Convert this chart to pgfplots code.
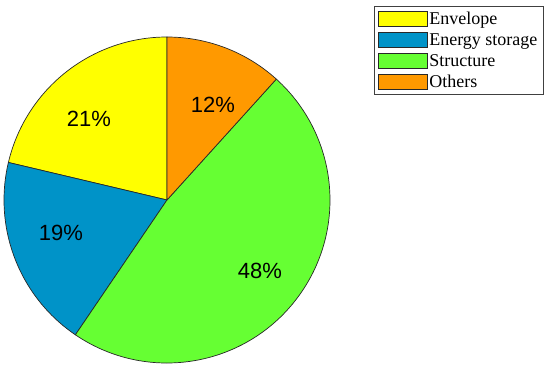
\documentclass[border=0pt]{standalone}
\usepackage{pgfplots}
\usepackage{pgfplotstable}
\pgfplotsset{compat=1.18}
\usepackage{fontspec}
\setmainfont{Liberation Serif}
\newfontfamily\labfont{Liberation Sans}
\definecolor{cEnv}{RGB}{255,255,0}
\definecolor{cEne}{RGB}{0,147,200}
\definecolor{cStr}{RGB}{102,255,51}
\definecolor{cOth}{RGB}{255,153,0}
\definecolor{edge}{RGB}{40,40,40}
\pgfplotstableread{
name value pct lx ly
Envelope 21.3 21 89 248
Energy 19.2 19 61 134
Structure 47.8 48 260 96
Others 11.7 12 213 262
}\piedata
\pgfplotstablegetelem{0}{value}\of\piedata \edef\vA{\pgfplotsretval}
\pgfplotstablegetelem{1}{value}\of\piedata \edef\vB{\pgfplotsretval}
\pgfplotstablegetelem{2}{value}\of\piedata \edef\vC{\pgfplotsretval}
\pgfplotstablegetelem{3}{value}\of\piedata \edef\vD{\pgfplotsretval}
\pgfmathsetmacro\aA{90}
\pgfmathsetmacro\aB{\aA+3.6*\vA}
\pgfmathsetmacro\aC{\aB+3.6*\vB}
\pgfmathsetmacro\aD{\aC+3.6*\vC}
\pgfmathsetmacro\aE{\aD+3.6*\vD}
\newcommand\pieslice[3]{%
  \filldraw[fill=#3, draw=edge, line width=0.7pt]
    (axis cs:167,167) -- ++(#1:163pt) arc[start angle=#1, end angle=#2, radius=163pt] -- cycle;}
\begin{document}
\begin{tikzpicture}
\begin{axis}[
  x=1pt, y=1pt, xmin=0, xmax=550, ymin=0, ymax=367,
  scale only axis, hide axis, clip=false,
  legend style={at={(axis cs:374,361)}, anchor=north west, draw=black!75,
    font=\fontsize{18}{19}\selectfont, row sep=4.6pt, inner sep=4pt,
    nodes={inner sep=1.5pt}},
  legend cell align=left,
  legend image code/.code={\draw[#1, draw=edge, line width=0.6pt] (0pt,-7.5pt) rectangle (49pt,7.5pt);},
]
\coordinate (BL) at (axis cs:0,0);
\coordinate (TR) at (axis cs:550,367);
\addlegendimage{fill=cEnv}
\addlegendimage{fill=cEne}
\addlegendimage{fill=cStr}
\addlegendimage{fill=cOth}
\legend{Envelope, Energy storage, Structure, Others}
\pieslice{\aA}{\aB}{cEnv}
\pieslice{\aB}{\aC}{cEne}
\pieslice{\aC}{\aD}{cStr}
\pieslice{\aD}{\aE}{cOth}
\pgfplotsinvokeforeach{0,1,2,3}{
  \pgfplotstablegetelem{#1}{pct}\of\piedata \edef\vv{\pgfplotsretval}
  \pgfplotstablegetelem{#1}{lx}\of\piedata \edef\xx{\pgfplotsretval}
  \pgfplotstablegetelem{#1}{ly}\of\piedata \edef\yy{\pgfplotsretval}
  \edef\temp{\noexpand\node[font=\noexpand\labfont\noexpand\fontsize{22}{24}\noexpand\selectfont, text=black] at (axis cs:\xx,\yy) {\vv\noexpand\%};}
  \temp
}
\end{axis}
\pgfresetboundingbox
\useasboundingbox (BL) rectangle (TR);
\end{tikzpicture}
\end{document}
